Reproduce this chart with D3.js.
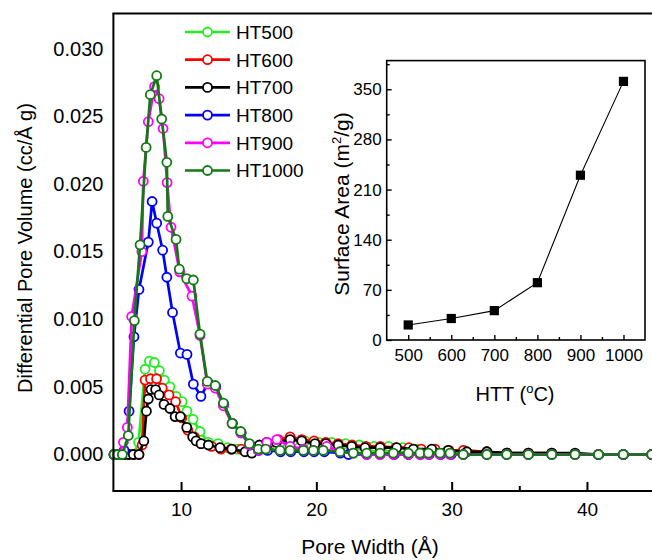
<!DOCTYPE html>
<html><head><meta charset="utf-8">
<script src="https://cdn.jsdelivr.net/npm/d3@7"></script>
<style>
body{margin:0;background:#fff}
svg{display:block}
text{font-family:"Liberation Sans",Arial,sans-serif;fill:#000}
</style>
</head><body><div id="chart"></div>
<script>
// ---------- data ----------
const seriesNames = ["HT500","HT600","HT700","HT800","HT900","HT1000"];
const seriesColors = ["#22ee22","#ff0000","#000000","#0000ff","#ff00ff","#117a11"];

const ht500 = [[5.05,0],[5.42,0],[5.79,0],[6.16,0],[6.52,0],[6.86,0.0009],[7.34,0.0063],[7.66,0.0069],[8.03,0.0068],[8.40,0.0062],[8.76,0.0055],[9.18,0.0050],[9.63,0.0043],[10.08,0.0039],[10.44,0.0032],[10.89,0.0026],[11.40,0.0017],[12.02,0.0009],[12.74,0.0008],[13.43,0.0005],[14.13,0.0004],[14.88,0.0003],[15.69,0.0004],[16.50,0.0006],[17.36,0.0009],[18.27,0.0010],[19.19,0.0010],[20.16,0.0009],[21.13,0.0009],[22.15,0.0008],[23.17,0.0007],[24.25,0.0006],[25.33,0.0006],[26.40,0.0005],[27.48,0.0004],[28.56,0.0004],[29.69,0.0003],[30.87,0.0003],[32.60,0.0002],[34.07,0.0001],[35.67,0.0001],[37.40,0.0001],[39.12,0],[40.85,0],[42.69,0],[44.79,0],[46.5,0]];
const ht600 = [[5.05,0],[5.42,0],[5.79,0],[6.16,0],[6.52,0],[6.89,0],[7.12,0.0007],[7.34,0.0055],[7.74,0.0056],[8.19,0.0056],[8.61,0.0049],[9.11,0.0044],[9.60,0.0039],[10.06,0.0027],[10.50,0.0018],[10.98,0.0013],[11.48,0.0008],[12.26,0.0006],[12.94,0.0004],[13.70,0.0004],[14.45,0.0004],[15.15,0.0002],[15.80,0.0005],[16.44,0.0008],[17.20,0.0011],[18.06,0.0013],[18.92,0.0011],[19.83,0.0010],[20.70,0.0009],[21.61,0.0008],[22.64,0.0007],[23.66,0.0006],[24.73,0.0006],[25.87,0.0005],[26.84,0.0005],[27.75,0.0004],[28.77,0.0004],[29.80,0.0003],[30.87,0.0003],[32.60,0.0002],[34.07,0.0001],[35.67,0.0001],[37.40,0.0001],[39.12,0],[40.85,0],[42.69,0],[44.79,0],[46.5,0]];
const ht700 = [[5.05,0],[5.42,0],[5.79,0],[6.13,0],[6.47,0],[6.89,0],[7.25,0.0010],[7.44,0.0032],[7.58,0.0041],[7.78,0.0048],[8.12,0.0048],[8.38,0.0044],[8.74,0.0037],[9.18,0.0034],[9.56,0.0028],[9.95,0.0028],[10.42,0.0020],[10.86,0.0013],[11.11,0.0010],[11.48,0.0008],[12.02,0.0007],[12.88,0.0005],[13.75,0.0004],[14.73,0.0002],[15.23,0.0001],[15.79,0.0007],[16.34,0.0009],[17.04,0.0009],[18.06,0.0011],[18.92,0.0010],[19.90,0.0008],[20.70,0.0008],[21.61,0.0007],[22.61,0.0006],[23.60,0.0005],[24.71,0.0005],[25.94,0.0005],[27.17,0.0004],[28.53,0.0004],[29.75,0.0003],[31.12,0.0002],[32.60,0.0002],[34.07,0.0001],[35.67,0.0001],[37.40,0.0001],[39.12,0.0001],[40.85,0],[42.69,0],[44.79,0],[46.5,0]];
const ht800 = [[5.05,0],[5.42,0],[5.79,0.0003],[6.16,0.0032],[6.52,0.0087],[6.89,0.0122],[7.58,0.0157],[7.86,0.0187],[8.20,0.0171],[8.64,0.0151],[8.95,0.0131],[9.37,0.0105],[9.95,0.0075],[10.44,0.0074],[10.91,0.0052],[11.47,0.0043],[12.00,0.0053],[12.57,0.0050],[13.16,0.0037],[13.80,0.0023],[14.45,0.0016],[15.10,0.0007],[15.74,0.0003],[16.39,0.0003],[17.36,0.0002],[18.11,0.0002],[19.08,0.0002],[19.83,0.0002],[20.59,0.0002],[21.77,0.0001],[22.37,0],[23.72,0],[24.71,0],[25.76,0],[26.80,0],[27.70,0],[28.34,0],[29.20,0],[29.96,0],[30.86,0],[32.60,0],[34.07,0],[35.67,0],[37.40,0],[39.12,0],[40.85,0],[42.69,0],[44.79,0],[46.5,0]];
const ht900 = [[5.05,0],[5.42,0],[5.74,0.0009],[6.03,0.0020],[6.35,0.0102],[7.10,0.0150],[7.21,0.0202],[7.58,0.0246],[8.04,0.0272],[8.38,0.0263],[8.67,0.0241],[8.97,0.0201],[9.26,0.0168],[9.90,0.0135],[10.81,0.0117],[11.40,0.0088],[11.94,0.0052],[12.53,0.0049],[13.13,0.0036],[13.77,0.0023],[14.41,0.0016],[15.05,0.0007],[15.71,0.0003],[16.34,0.0009],[17.08,0.0011],[18.06,0.0006],[19.04,0.0004],[19.78,0.0003],[20.77,0.0006],[21.75,0.0002],[22.73,0.0001],[23.72,0],[24.71,0],[25.69,0],[26.80,0],[27.66,0],[28.28,0],[29.14,0],[29.88,0],[30.86,0],[32.60,0],[34.07,0],[35.67,0],[37.40,0],[39.12,0],[40.85,0],[42.69,0],[44.79,0],[46.5,0]];
const ht1000 = [[5.05,0],[5.32,0],[5.66,0],[6.10,0.0014],[6.55,0.0099],[6.97,0.0155],[7.42,0.0227],[7.73,0.0266],[8.20,0.0280],[8.57,0.0248],[8.95,0.0216],[9.02,0.0176],[9.63,0.0159],[9.87,0.0137],[10.42,0.0130],[10.91,0.0129],[11.40,0.0089],[11.94,0.0054],[12.53,0.0051],[13.13,0.0038],[13.77,0.0023],[14.41,0.0017],[15.05,0.0008],[15.71,0.0004],[16.26,0.0004],[17.32,0.0003],[18.06,0.0003],[19.04,0.0003],[19.78,0.0003],[20.51,0.0003],[21.75,0.0002],[22.73,0.0001],[23.72,0.0001],[24.71,0.0001],[25.69,0.0001],[26.80,0.0001],[27.66,0.0001],[28.28,0.0001],[29.14,0.0001],[29.88,0.0001],[30.86,0],[32.60,0],[34.07,0],[35.67,0],[37.40,0],[39.12,0],[40.85,0],[42.69,0],[44.79,0],[46.5,0]];
const seriesData = [ht500, ht600, ht700, ht800, ht900, ht1000];

const mainXTicks = [10,20,30,40];
const mainXMinor = [15,25,35];
const mainYTicks = [0,0.005,0.010,0.015,0.020,0.025,0.030];

const httTemps = [500,600,700,800,900,1000];
const surfaceArea = [21,30,41,80,230,361];
const insetXTicks = [500,600,700,800,900,1000];
const insetXMinor = [550,650,750,850,950];
const insetYTicks = [0,70,140,210,280,350];
const insetYMinor = [35,105,175,245,315,385];

// ---------- layout ----------
const W = 652, H = 560;
const svg = d3.select("#chart").append("svg").attr("width", W).attr("height", H);

const x = d3.scaleLinear().domain([5,45]).range([113.4,654.6]);
const y = d3.scaleLinear().domain([-0.0027,0.0326]).range([491,13.5]);

const line = d3.line().x(d => x(d[0])).y(d => y(d[1]));

// series
seriesData.forEach((data, i) => {
  const g = svg.append("g");
  g.append("path").attr("d", line(data)).attr("fill","none")
    .attr("stroke", seriesColors[i]).attr("stroke-width", 2.7).attr("stroke-linejoin","round");
  g.selectAll("circle").data(data).join("circle")
    .attr("cx", d => x(d[0])).attr("cy", d => y(d[1])).attr("r", 4.5)
    .attr("fill","#fff").attr("stroke", seriesColors[i]).attr("stroke-width", 1.8);
});

// frame
svg.append("line").attr("x1",113.4).attr("x2",113.4).attr("y1",13.5).attr("y2",491).attr("stroke","#000").attr("stroke-width",2);
svg.append("line").attr("x1",112.4).attr("x2",W).attr("y1",13.5).attr("y2",13.5).attr("stroke","#000").attr("stroke-width",2);
svg.append("line").attr("x1",112.4).attr("x2",W).attr("y1",491).attr("y2",491).attr("stroke","#000").attr("stroke-width",2);

// x axis ticks
const xAx = svg.append("g").attr("transform","translate(0,491)")
  .call(d3.axisBottom(x).tickValues(mainXTicks).tickSize(-9).tickPadding(12).tickFormat(d3.format("d")));
xAx.select(".domain").remove();
xAx.selectAll("line").attr("stroke","#000").attr("stroke-width",2);
xAx.selectAll("text").attr("font-size",19).attr("font-family",null);
const xMin = svg.append("g").attr("transform","translate(0,491)")
  .call(d3.axisBottom(x).tickValues(mainXMinor).tickSize(-5).tickFormat(""));
xMin.select(".domain").remove();
xMin.selectAll("line").attr("stroke","#000").attr("stroke-width",2);

// y axis labels
const yAx = svg.append("g").attr("transform","translate(113.4,0)")
  .call(d3.axisLeft(y).tickValues(mainYTicks).tickSize(0).tickPadding(10).tickFormat(d3.format(".3f")));
yAx.select(".domain").remove();
yAx.selectAll("text").attr("font-size",20).attr("font-family",null);

// axis titles
svg.append("text").attr("x",370).attr("y",554).attr("text-anchor","middle").attr("font-size",21).text("Pore Width (Å)");
svg.append("text").attr("transform","translate(32,248) rotate(-90)").attr("text-anchor","middle").attr("font-size",20)
  .text("Differential Pore Volume (cc/Å g)");

// legend
seriesNames.forEach((n, i) => {
  const ly = 32 + i*27.7;
  svg.append("line").attr("x1",185).attr("x2",230).attr("y1",ly).attr("y2",ly)
    .attr("stroke",seriesColors[i]).attr("stroke-width",2.7);
  svg.append("circle").attr("cx",207.5).attr("cy",ly).attr("r",4.5)
    .attr("fill","#fff").attr("stroke",seriesColors[i]).attr("stroke-width",1.8);
  svg.append("text").attr("x",236).attr("y",ly).attr("dy","0.36em").attr("font-size",19).text(n);
});

// ---------- inset ----------
const ix = d3.scaleLinear().domain([450,1050]).range([386.7,645]);
const iy = d3.scaleLinear().domain([0,390]).range([340,60.6]);
const ig = svg.append("g");
ig.append("rect").attr("x",386.7).attr("y",60.6).attr("width",645-386.7).attr("height",340-60.6)
  .attr("fill","#fff").attr("stroke","#000").attr("stroke-width",1.6);

const iyAx = ig.append("g").attr("transform","translate(386.7,0)")
  .call(d3.axisLeft(iy).tickValues(insetYTicks).tickSize(-5).tickPadding(5));
iyAx.select(".domain").remove();
iyAx.selectAll("line").attr("stroke","#000").attr("stroke-width",1.4);
iyAx.selectAll("text").attr("font-size",17).attr("font-family",null);
const iyMin = ig.append("g").attr("transform","translate(386.7,0)")
  .call(d3.axisLeft(iy).tickValues(insetYMinor).tickSize(-3).tickFormat(""));
iyMin.select(".domain").remove();
iyMin.selectAll("line").attr("stroke","#000").attr("stroke-width",1.4);

const ixAx = ig.append("g").attr("transform","translate(0,340)")
  .call(d3.axisBottom(ix).tickValues(insetXTicks).tickSize(-5).tickPadding(9).tickFormat(d3.format("d")));
ixAx.select(".domain").remove();
ixAx.selectAll("line").attr("stroke","#000").attr("stroke-width",1.4);
ixAx.selectAll("text").attr("font-size",17).attr("font-family",null);
const ixMin = ig.append("g").attr("transform","translate(0,340)")
  .call(d3.axisBottom(ix).tickValues(insetXMinor).tickSize(-3).tickFormat(""));
ixMin.select(".domain").remove();
ixMin.selectAll("line").attr("stroke","#000").attr("stroke-width",1.4);

const insetPts = httTemps.map((t,i) => [t, surfaceArea[i]]);
ig.append("path").attr("d", d3.line().x(d => ix(d[0])).y(d => iy(d[1]))(insetPts))
  .attr("fill","none").attr("stroke","#000").attr("stroke-width",1.1);
ig.selectAll("rect.pt").data(insetPts).join("rect").attr("class","pt")
  .attr("x", d => ix(d[0]) - 4.6).attr("y", d => iy(d[1]) - 4.6)
  .attr("width",9.2).attr("height",9.2).attr("fill","#000");

const xt = ig.append("text").attr("x",515).attr("y",401).attr("text-anchor","middle").attr("font-size",20);
xt.append("tspan").text("HTT (");
xt.append("tspan").attr("font-size",13).attr("dy",-8).text("o");
xt.append("tspan").attr("dy",8).text("C)");

const yt = ig.append("text").attr("transform","translate(349,204) rotate(-90)").attr("text-anchor","middle").attr("font-size",21);
yt.append("tspan").text("Surface Area (m");
yt.append("tspan").attr("font-size",13).attr("dy",-8).text("2");
yt.append("tspan").attr("dy",8).text("/g)");
</script>
</body></html>
